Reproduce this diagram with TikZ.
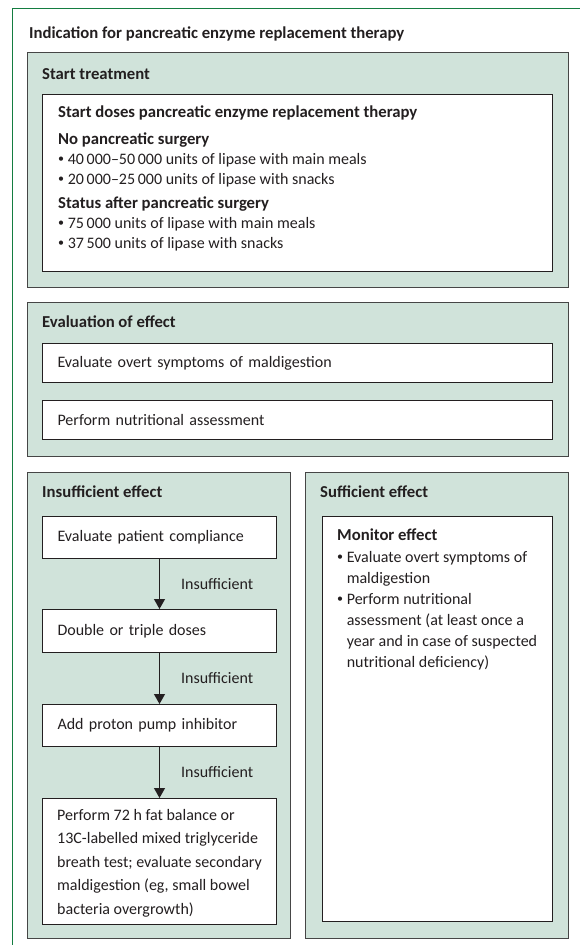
\documentclass[tikz,border=0pt]{standalone}
\usepackage{fontspec}
\setmainfont{Carlito}
\usetikzlibrary{arrows.meta,positioning}

\definecolor{panelfill}{RGB}{208,227,218}
\definecolor{panelline}{RGB}{70,70,70}
\definecolor{framegreen}{RGB}{20,125,65}
\definecolor{ink}{RGB}{35,31,32}

\newcommand{\bodysize}{\fontsize{16}{20}\selectfont}
\newcommand{\headsize}{\fontsize{16.7}{20}\selectfont\bfseries}
\newcommand{\hd}[1]{{\headsize #1}}
\newcommand{\bul}{\raisebox{0.15ex}{\scalebox{0.75}{\textbullet}}\ }
\newcommand{\bulgap}{\hphantom{\bul}}

\tikzset{
  panel/.style={draw=panelline, line width=1.4pt, fill=panelfill, anchor=north west, inner sep=0pt},
  whitebox/.style={draw=ink, line width=1pt, fill=white, anchor=north west, inner sep=0pt},
  stepbox/.style={whitebox, minimum width=234pt, text width=204pt, inner xsep=15pt, align=left},
  widebox/.style={whitebox, minimum width=510pt, minimum height=39pt, text width=480pt, inner xsep=15pt, align=left},
  heading/.style={font=\headsize, anchor=base west, inner sep=0pt},
  plain/.style={anchor=base west, inner sep=0pt, align=left},
  flow/.style={draw=ink, line width=1.2pt, -{Triangle[length=10pt,width=11pt]}},
  flowlabel/.style={right=21pt, inner sep=0pt},
}

\begin{document}
\begin{tikzpicture}[x=1pt, y=-1pt, font=\bodysize, text=ink, node distance=50pt]
\useasboundingbox[fill=white] (0,0) rectangle (580,945);
% outer frame
\draw[framegreen, line width=1pt] (580,8) -- (12,8) -- (12,945);
\node[heading] (title) at (29,38) {Indication for pancreatic enzyme replacement therapy};

% start treatment
\node[panel, minimum width=541pt, minimum height=235pt] (startpanel) at (27,52) {};
\node[heading] (starthead) at (42,79) {Start treatment};
\node[whitebox, minimum width=510pt, minimum height=177pt] (dosebox) at (42,94) {};
% multi-line texts sit on their last baseline
\node[plain] (dosetext) at (58,248) {\hd{Start doses pancreatic enzyme replacement therapy}\\[7pt]
  \hd{No pancreatic surgery}\\
  \bul 40\,000--50\,000 units of lipase with main meals\\
  \bul 20\,000--25\,000 units of lipase with snacks\\[4pt]
  \hd{Status after pancreatic surgery}\\
  \bul 75\,000 units of lipase with main meals\\
  \bul 37\,500 units of lipase with snacks};

% evaluation
\node[panel, minimum width=541pt, minimum height=154pt] (evalpanel) at (27,302) {};
\node[heading] (evalhead) at (42,327) {Evaluation of effect};
\node[widebox] (symptoms) at (42,343) {Evaluate overt symptoms of maldigestion};
\node[widebox, below=17pt of symptoms] (nutrition) {Perform nutritional assessment};

% insufficient effect
\node[panel, minimum width=263pt, minimum height=466pt] (insuffpanel) at (27,472) {};
\node[heading] (insuffhead) at (42,497) {Insufficient effect};
\node[stepbox, minimum height=42pt] (compliance) at (42,516) {Evaluate patient compliance};
\node[stepbox, minimum height=43pt, below=of compliance] (doses) {Double or triple doses};
\node[stepbox, minimum height=42pt, below=51pt of doses] (ppi) {Add proton pump inhibitor};
\node[stepbox, minimum height=126pt, below=51pt of ppi] (fattest) {};
\node[plain, font=\fontsize{16}{23.5}\selectfont] (fattext) at (57,914) {Perform 72 h fat balance or\\
  13C-labelled mixed triglyceride\\
  breath test; evaluate secondary\\
  maldigestion (eg, small bowel\\
  bacteria overgrowth)};

\draw[flow] (compliance) -- (doses) node[midway, flowlabel] {Insufficient};
\draw[flow] (doses) -- (ppi) node[midway, flowlabel] {Insufficient};
\draw[flow] (ppi) -- (fattest) node[midway, flowlabel] {Insufficient};

% sufficient effect
\node[panel, minimum width=263pt, minimum height=466pt] (suffpanel) at (305,472) {};
\node[heading] (suffhead) at (320,497) {Sufficient effect};
\node[whitebox, minimum width=230pt, minimum height=405pt] (monitorbox) at (322,516) {};
\node[plain, font=\fontsize{16}{21}\selectfont] (monitortext) at (337,667) {\hd{Monitor effect}\\[1pt]
  \bul Evaluate overt symptoms of\\
  \bulgap maldigestion\\
  \bul Perform nutritional\\
  \bulgap assessment (at least once a\\
  \bulgap year and in case of suspected\\
  \bulgap nutritional deficiency)};
\end{tikzpicture}
\end{document}
